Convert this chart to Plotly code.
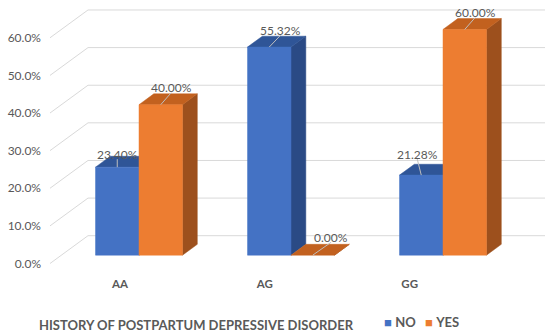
import plotly.graph_objects as go

# ---------------- data ----------------
categories = ["AA", "AG", "GG"]
series_names = ["NO", "YES"]
no_values = [23.40, 55.32, 21.28]
yes_values = [40.00, 0.00, 60.00]
y_ticks = [0, 10, 20, 30, 40, 50, 60]
x_title = "HISTORY OF POSTPARTUM DEPRESSIVE DISORDER"

series_values = [no_values, yes_values]

# ---------------- style / layout ----------------
W, H = 550, 335
ML, MR, MT, MB = 42, 0, 0, 60
PLOT_W = W - ML - MR
PLOT_H = H - MT - MB

PX_PER_X = 152.0      # pixels per category step
X0_PX = 127.6         # pixel of first category (front plane)
PX_PER_PCT = 3.762    # pixels per percentage point
Y0_PX = 263.5         # pixel of 0% (front plane)

def xu(px):
    return (px - X0_PX) / PX_PER_X

def yu(py):
    return (Y0_PX - py) / PX_PER_PCT

DXU = 38 / PX_PER_X          # depth offset (x) of back wall
DYU = 27.8 / PX_PER_PCT      # depth offset (y) of back wall
Z0, Z1 = 0.30, 0.69          # bar front/back depth
BW = 0.286                   # bar width (category units)

FRONT = ["#4472c4", "#ed7d31"]
TOP = ["#2f5597", "#c2611f"]
SIDE = ["#2a4a85", "#9d501d"]
TXT = "#595959"
GRID = "#d9d9d9"
FONT = "Lato"

# label offsets from front-top centre (px right, px up)
LABEL_OFF = [[(0, 13), (11.5, 17), (-4, 21)],
             [(10.5, 17), (18.5, 18), (10.5, 17)]]

def P(x, v, z):
    return x + z * DXU, v + z * DYU

fig = go.Figure()

# gridlines (front diagonal + back wall)
gx, gy = [], []
x_fl = xu(50)
x_r = xu(545)
for t in y_ticks:
    a = P(x_fl, t, 0)
    b = P(x_fl, t, 1)
    gx += [a[0], b[0], x_r, None]
    gy += [a[1], b[1], b[1], None]
fig.add_trace(go.Scatter(x=gx, y=gy, mode="lines", line=dict(color=GRID, width=1),
                         hoverinfo="skip", showlegend=False))

# bars
annotations = []
lx, ly = [], []
for i in range(len(categories)):
    for s, vals in enumerate(series_values):
        v = vals[i]
        xl = i + (s - 1) * BW
        xr = xl + BW
        # side face
        pts = [P(xr, 0, Z0), P(xr, v, Z0), P(xr, v, Z1), P(xr, 0, Z1)]
        fig.add_trace(go.Scatter(x=[p[0] for p in pts] + [pts[0][0]],
                                 y=[p[1] for p in pts] + [pts[0][1]],
                                 fill="toself", fillcolor=SIDE[s], mode="lines",
                                 line=dict(color=SIDE[s], width=0.5),
                                 hoverinfo="skip", showlegend=False))
        # top face
        pts = [P(xl, v, Z0), P(xr, v, Z0), P(xr, v, Z1), P(xl, v, Z1)]
        fig.add_trace(go.Scatter(x=[p[0] for p in pts] + [pts[0][0]],
                                 y=[p[1] for p in pts] + [pts[0][1]],
                                 fill="toself", fillcolor=TOP[s], mode="lines",
                                 line=dict(color=TOP[s], width=0.5),
                                 hoverinfo="skip", showlegend=False))
        # front face
        pts = [P(xl, 0, Z0), P(xr, 0, Z0), P(xr, v, Z0), P(xl, v, Z0)]
        if v > 0:
            fig.add_trace(go.Scatter(x=[p[0] for p in pts] + [pts[0][0]],
                                     y=[p[1] for p in pts] + [pts[0][1]],
                                     fill="toself", fillcolor=FRONT[s], mode="lines",
                                     line=dict(color=FRONT[s], width=0.5),
                                     hoverinfo="skip", showlegend=False))
        # data label + leader
        cx, cy = P((xl + xr) / 2, v, Z0)
        dxp, dyp = LABEL_OFF[s][i]
        lxu = cx + dxp / PX_PER_X
        lyu = cy + dyp / PX_PER_PCT
        lx += [cx, lxu, None]
        ly += [cy, lyu - 5 / PX_PER_PCT, None]
        annotations.append(dict(x=lxu, y=lyu, xref="x", yref="y",
                                text=f"{v:.2f}%", showarrow=False,
                                font=dict(family=FONT, size=12, color=TXT),
                                xanchor="center", yanchor="middle"))

fig.add_trace(go.Scatter(x=lx, y=ly, mode="lines", line=dict(color="#bfbfbf", width=1),
                         hoverinfo="skip", showlegend=False))

# axis title
def paper_x(px):
    return (px - ML) / PLOT_W

def paper_y(py):
    return (MT + PLOT_H - py) / PLOT_H

annotations.append(dict(x=paper_x(196), y=paper_y(325), xref="paper", yref="paper",
                        text=f"<b>{x_title}</b>", showarrow=False,
                        font=dict(family=FONT, size=13, color=TXT),
                        xanchor="center", yanchor="middle"))

# legend (manual)
leg_x = [382, 423]
for s, name in enumerate(series_names):
    annotations.append(dict(x=paper_x(leg_x[s]), y=paper_y(322), xref="paper", yref="paper",
                            text=f"<span style='color:{FRONT[s]}'>■</span> <b>{name}</b>",
                            showarrow=False,
                            font=dict(family=FONT, size=13, color=TXT),
                            xanchor="left", yanchor="middle"))

fig.update_layout(
    template="none",
    width=W, height=H,
    margin=dict(l=ML, r=MR, t=MT, b=MB, pad=0, autoexpand=False),
    paper_bgcolor="white", plot_bgcolor="white",
    showlegend=False,
    annotations=annotations,
    xaxis=dict(range=[xu(ML), xu(W - MR)], showgrid=False, zeroline=False, showline=False,
               automargin=False,
               tickvals=[i * 0.953 - 0.05 for i in range(len(categories))],
               ticktext=categories, ticks="",
               tickfont=dict(family=FONT, size=11.5, color=TXT, weight="bold"),
               fixedrange=True),
    yaxis=dict(range=[yu(MT + PLOT_H), yu(MT)], showgrid=False, zeroline=False, showline=False,
               automargin=False,
               tickvals=y_ticks, ticktext=[f"{t:.1f}%" for t in y_ticks], ticks="",
               tickfont=dict(family=FONT, size=12, color=TXT),
               fixedrange=True),
)

fig.write_html("out.html", config={"displayModeBar": False},
               post_script="document.body.style.margin='0';document.body.style.overflow='hidden';")
